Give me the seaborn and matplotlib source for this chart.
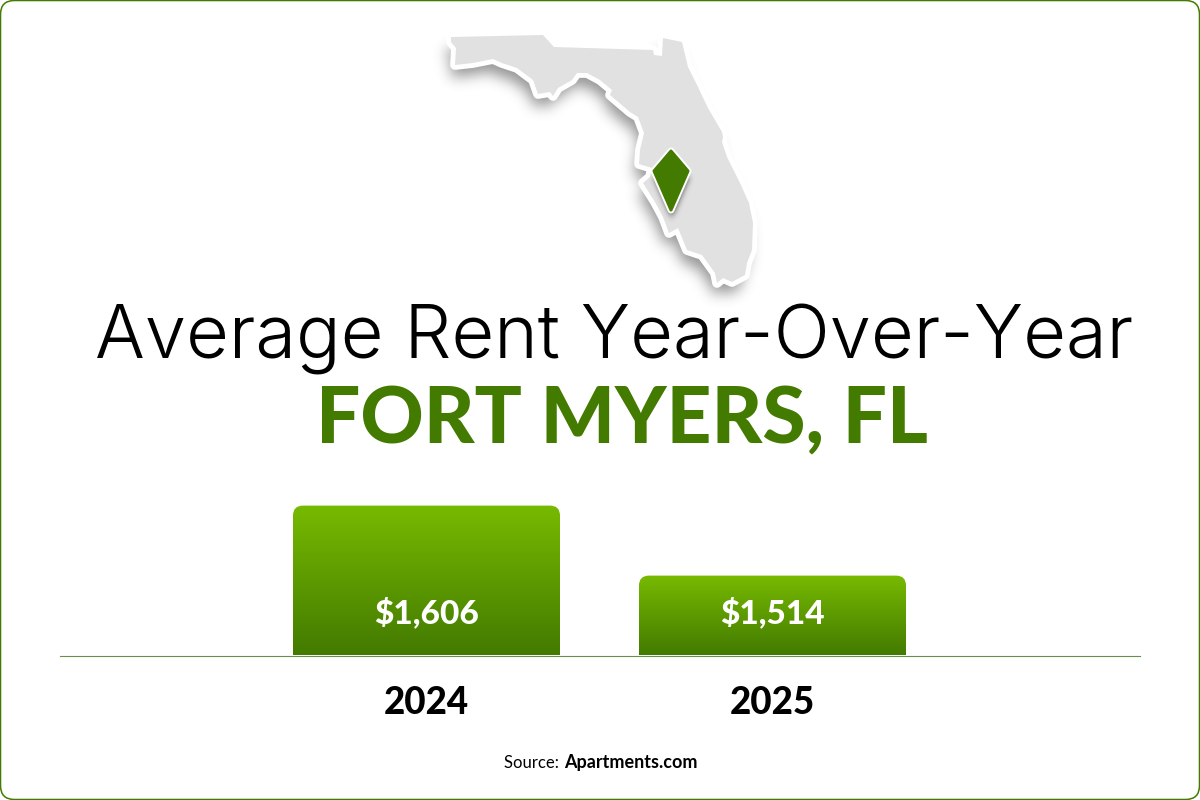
import matplotlib
matplotlib.use("Agg")
import matplotlib.pyplot as plt
import numpy as np
import pandas as pd
import seaborn as sns
from matplotlib.colors import LinearSegmentedColormap
from matplotlib.patches import FancyBboxPatch, Polygon
from matplotlib.path import Path
from matplotlib.transforms import IdentityTransform

# --- data ---
years = ["2024", "2025"]
rents = [1606, 1514]
rent_labels = ["$1,606", "$1,514"]
axis_floor = 1409
title_text = "Average Rent Year-Over-Year"
city_text = "FORT MYERS, FL"
source_prefix = "Source: "
source_name = "Apartments.com"

# Florida outline and map pin, traced in reference pixels
florida_x = [451, 543, 554, 653, 654, 662, 663, 682, 688, 697, 708, 722, 723, 722, 727, 740, 749, 753, 752, 747, 745, 732, 723, 717, 715, 702, 687, 678, 669, 663, 655, 643, 650, 652, 639, 640, 644, 638, 630, 610, 612, 600, 587, 577, 572, 558, 553, 550, 538, 533, 517, 502, 493, 473, 455, 456, 451]
florida_y = [37, 35, 47, 50, 55, 56, 38, 42, 67, 85, 108, 132, 137, 142, 157, 183, 203, 223, 250, 263, 275, 282, 278, 283, 273, 255, 250, 228, 233, 217, 202, 183, 177, 168, 164, 150, 133, 117, 112, 95, 90, 80, 73, 73, 80, 88, 96, 92, 94, 80, 68, 63, 59, 63, 65, 48, 42]
pin_x = [671, 688, 671, 654]
pin_y = [151, 171, 210, 171]

# --- style ---
GREEN = "#437A00"
TOP = "#77BA00"
LINE = "#6B8F4A"
TITLE_FONT = ["Inter", "Lato", "DejaVu Sans"]

sns.set_theme(style="white")
plt.rcParams["font.family"] = ["Lato", "DejaVu Sans"]

W, H = 1200, 800
BASE = 655.5
AX_TOP = 480
PX_PER_UNIT = 70 / 92


def soft_shadow(axis, xs, ys, dx, dy, sigma, alpha):
    """Blurred copy of a polygon, drawn as an image on the pixel layer."""
    pad = int(4 * sigma) + 2
    x0, x1 = int(min(xs)) - pad, int(max(xs)) + pad
    y0, y1 = int(min(ys)) - pad, int(max(ys)) + pad
    gx, gy = np.meshgrid(np.arange(x0, x1), np.arange(y0, y1))
    inside = Path(np.c_[xs, ys]).contains_points(np.c_[gx.ravel(), gy.ravel()])
    mask = inside.reshape(gx.shape).astype(float)
    t = np.arange(-pad, pad + 1)
    kernel = np.exp(-t ** 2 / (2 * sigma ** 2))
    kernel /= kernel.sum()
    mask = np.apply_along_axis(lambda r: np.convolve(r, kernel, mode="same"), 0, mask)
    mask = np.apply_along_axis(lambda r: np.convolve(r, kernel, mode="same"), 1, mask)
    rgba = np.zeros(mask.shape + (4,))
    rgba[..., 3] = mask * alpha
    axis.imshow(rgba, extent=(x0 + dx, x1 + dx, y1 + dy, y0 + dy), aspect="auto", zorder=1, interpolation="bilinear")


fig = plt.figure(figsize=(12, 8), dpi=100, facecolor="white")

# full-figure layer in pixels for the card, map and headings
bg = fig.add_axes([0, 0, 1, 1], zorder=0)
bg.axis("off")
bg.add_patch(FancyBboxPatch((0.5, 0.5), W - 1, H - 1,
                            boxstyle="round,pad=0,rounding_size=14",
                            fc="white", ec=GREEN, lw=1.1, zorder=0))

fx, fy = np.array(florida_x), np.array(florida_y)
soft_shadow(bg, fx, fy, -5, 12, 7, 0.42)
bg.add_patch(Polygon(np.c_[fx, fy], closed=True, fc="white", ec="white", lw=7, joinstyle="round", zorder=2))
bg.add_patch(Polygon(np.c_[fx, fy], closed=True, fc="#E1E1E1", ec="none", zorder=2.5))

px, py = np.array(pin_x), np.array(pin_y)
soft_shadow(bg, px, py, 0, 7, 3, 0.7)
# the pin's shadow belongs above the map, so lift it over the land fill
bg.images[-1].set_zorder(2.7)
bg.add_patch(Polygon(np.c_[px, py], closed=True, fc="white", ec="white", lw=5, joinstyle="round", zorder=3))
bg.add_patch(Polygon(np.c_[px, py], closed=True, fc=GREEN, ec=GREEN, lw=2.2, joinstyle="round", zorder=4))

bg.set_xlim(0, W)
bg.set_ylim(H, 0)

bg.text(614.5, 358, title_text, ha="center", va="baseline", fontsize=53.3, color="black", family=TITLE_FONT, fontweight=300)
bg.text(622, 443, city_text, ha="center", va="baseline", fontsize=56.3, color=GREEN, fontweight="black")
bg.text(563, 762.5, source_prefix, ha="right", va="center", fontsize=12, color="black")
bg.text(564, 762.5, source_name, ha="left", va="center", fontsize=13, color="black", fontweight="bold")

# bar chart
ax = fig.add_axes([60 / W, 1 - BASE / H, 1080 / W, (BASE - AX_TOP) / H], zorder=1)
ax.patch.set_alpha(0)
df = pd.DataFrame({"year": years, "rent": rents})
sns.barplot(data=df, x="year", y="rent", ax=ax, width=267 / 346, color=GREEN, saturation=1)
ax.set_xlim((60 - 426.5) / 346, (1140 - 426.5) / 346)
ax.set_ylim(axis_floor, axis_floor + (BASE - AX_TOP) / PX_PER_UNIT)
ax.set_xlabel("")
ax.set_ylabel("")
ax.set_yticks([])
ax.tick_params(axis="x", length=0, pad=22)
for t in ax.get_xticklabels():
    t.set_fontsize(26.5)
    t.set_fontweight("black")
    t.set_color("black")
for name, sp in ax.spines.items():
    sp.set_visible(name == "bottom")
ax.spines["bottom"].set_color(LINE)
ax.spines["bottom"].set_linewidth(0.8)

fig.canvas.draw()
cmap = LinearSegmentedColormap.from_list("bar", [TOP, GREEN])
grad = np.linspace(0, 1, 256).reshape(-1, 1)
for bar, label in zip(ax.patches, rent_labels):
    x0, y0, w, h = bar.get_x(), bar.get_y(), bar.get_width(), bar.get_height()
    ext = bar.get_window_extent()
    bar.set_facecolor("none")
    bar.set_edgecolor("none")
    im = ax.imshow(grad, cmap=cmap, aspect="auto", extent=(x0, x0 + w, axis_floor, y0 + h), zorder=2, vmin=0, vmax=1)
    clip = FancyBboxPatch((ext.x0, ext.y0 - 30), ext.width, ext.height + 30,
                          boxstyle="round,pad=0,rounding_size=10", transform=IdentityTransform())
    im.set_clip_path(clip)
    ax.text(x0 + w / 2, axis_floor + (BASE - 612) / PX_PER_UNIT, label, ha="center", va="center",
            color="white", fontsize=24, fontweight="black", zorder=3)
ax.set_xlim((60 - 426.5) / 346, (1140 - 426.5) / 346)
ax.set_ylim(axis_floor, axis_floor + (BASE - AX_TOP) / PX_PER_UNIT)

fig.savefig("out.png", dpi=100, facecolor="white")
